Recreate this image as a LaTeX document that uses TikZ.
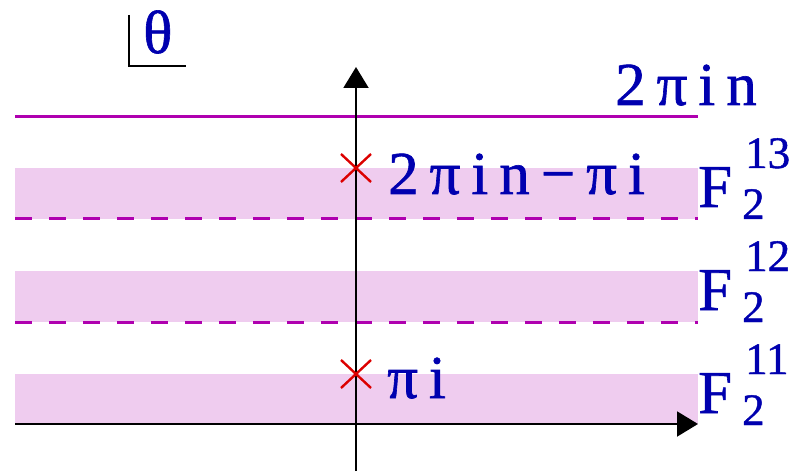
\documentclass[tikz,border=0pt]{standalone}
\usepackage{fontspec}
\setmainfont[FakeBold=1]{Liberation Serif}
\usetikzlibrary{arrows.meta,calc}
\definecolor{bandfill}{RGB}{239,204,239}
\definecolor{purp}{RGB}{175,0,175}
\definecolor{txtblue}{RGB}{0,0,175}
\definecolor{xred}{RGB}{220,0,0}
\newcommand{\lsp}{\kern 0.18em}
\begin{document}
\begin{tikzpicture}[x=1pt,y=-1pt,
  band/.style={fill=bandfill,draw=none},
  solidline/.style={draw=purp,line width=3pt},
  dashline/.style={draw=purp,line width=3pt,dash pattern=on 17pt off 17pt},
  axis/.style={draw=black,line width=2pt,-{Triangle[length=21pt,width=25pt]}},
  lbl/.style={text=txtblue,inner sep=0pt,anchor=base west,font=\fontsize{61}{61}\selectfont},
  small/.style={text=txtblue,inner sep=0pt,anchor=base west,font=\fontsize{45}{45}\selectfont},
  xmark/.style={draw=xred,line width=2.4pt}]
\useasboundingbox (0,0) rectangle (798,473);
% bands
\fill[band] (15,168) rectangle (698,219);
\fill[band] (15,271) rectangle (698,322);
\fill[band] (15,374) rectangle (698,424);
% lines
\coordinate (s1) at (15,117); \coordinate (s2) at (698,117);
\draw[solidline] (s1) -- (s2);
\coordinate (d1a) at (15,219); \coordinate (d1b) at (698,219);
\draw[dashline] (d1a) -- (d1b);
\coordinate (d2a) at (15,322); \coordinate (d2b) at (698,322);
\draw[dashline] (d2a) -- (d2b);
% axes
\coordinate (ha) at (15,424); \coordinate (hb) at (698,424);
\draw[axis] (ha) -- (hb);
\coordinate (va) at (356,471); \coordinate (vb) at (356,67);
\draw[axis] (va) -- (vb);
% crosses
\coordinate (c1) at (356,168);
\coordinate (c2) at (356,374);
\foreach \c in {c1,c2}{
  \draw[xmark] ($(\c)+(-15,-14)$) -- ($(\c)+(15,14)$);
  \draw[xmark] ($(\c)+(-15,14)$) -- ($(\c)+(15,-14)$);
}
% theta corner
\coordinate (t1) at (129,15); \coordinate (t2) at (129,66); \coordinate (t3) at (186,66);
\draw[black,line width=2.2pt] (t1) -- (t2) -- (t3);
\node[lbl] (theta) at (143,53) {θ};
% labels
\node[lbl] (l2pin) at (615,105) {2\lsp π\lsp i\lsp n};
\node[lbl] (l2pinpi) at (388,194) {2\lsp π\lsp i\lsp n\lsp −\lsp π\lsp i};
\node[lbl] (lpi) at (387,398) {π\lsp i};
% F labels
\foreach \y/\s [count=\k] in {207/13,310/12,413/11}{
  \node[lbl] (F\k) at (698,\y) {F};
  \node[small] (Fs\k) at (742,\y+12) {2};
  \node[small] (Fp\k) at (745,\y-39) {\s};
}
\end{tikzpicture}
\end{document}
